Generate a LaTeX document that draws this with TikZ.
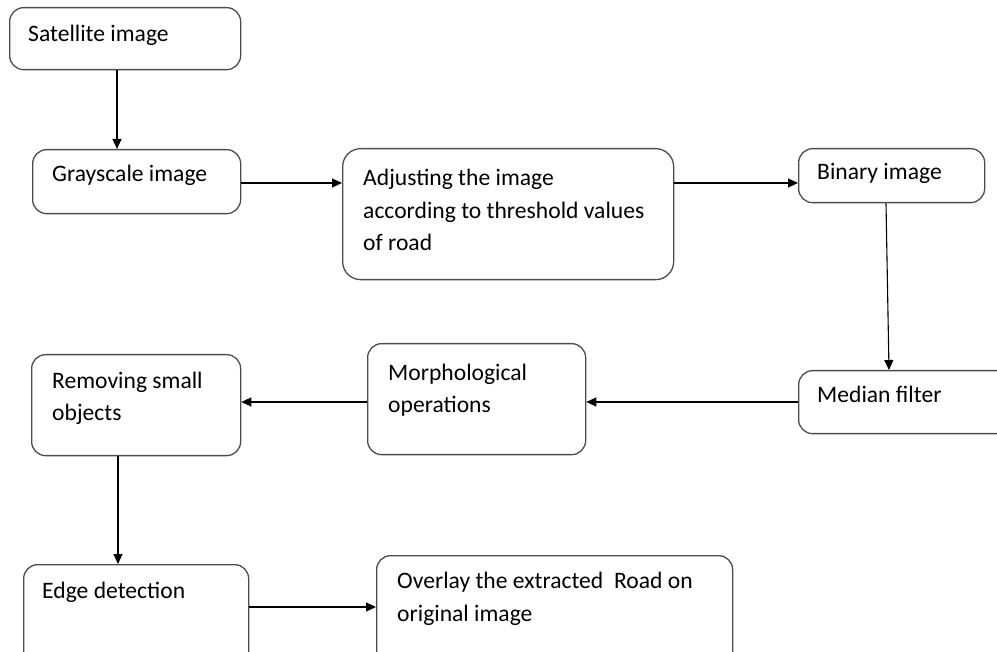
\documentclass[tikz,border=0pt]{standalone}
\usepackage{fontspec}
\setmainfont{Carlito}
\usetikzlibrary{arrows.meta}
\begin{document}
\begin{tikzpicture}[x=1pt,y=-1pt,
  box/.style={draw=black!70,line width=1.3pt,rounded corners=14pt,anchor=north west,inner sep=0pt,fill=white},
  txt/.style={anchor=base west,inner sep=0pt,align=left,font=\fontsize{23.6}{32.5}\selectfont},
  arr/.style={line width=1.1pt,-{Triangle[length=10pt,width=9pt]}}]
\useasboundingbox (0,0) rectangle (997,652);
\clip (0,0) rectangle (997,652);
\fill[white] (0,0) rectangle (997,652);
% boxes
\node[box,minimum width=231pt,minimum height=62pt] (sat) at (9,7) {};
\node[box,minimum width=208pt,minimum height=64pt] (gray) at (32,149) {};
\node[box,minimum width=331pt,minimum height=131pt,rounded corners=18pt] (adj) at (342,148) {};
\node[box,minimum width=186pt,minimum height=54pt] (bin) at (798,148) {};
\node[box,minimum width=230pt,minimum height=63pt] (med) at (798,370) {};
\node[box,minimum width=218pt,minimum height=111pt] (morph) at (367,343) {};
\node[box,minimum width=209pt,minimum height=101pt] (rem) at (31,354) {};
\node[box,minimum width=225pt,minimum height=110pt] (edge) at (23,564) {};
\node[box,minimum width=356pt,minimum height=120pt] (over) at (376,555) {};
% texts (base = last line)
\node[txt] (tsat) at (28,42) {Satellite image};
\node[txt] (tgray) at (52,182) {Grayscale image};
\node[txt] (tadj) at (363,251) {Adjusting the image\\according to threshold values\\of road};
\node[txt] (tbin) at (817,180) {Binary image};
\node[txt] (tmed) at (817,403) {Median filter};
\node[txt] (tmorph) at (388,413) {Morphological\\operations};
\node[txt] (trem) at (52,421) {Removing small\\objects};
\node[txt] (tedge) at (42,598) {Edge detection};
\node[txt] (tover) at (397,621) {Overlay the extracted\ \ Road on\\original image};
% connector guides
\coordinate (c1) at (117,0);
\coordinate (c2) at (0,183);
\coordinate (c3) at (0,402);
\coordinate (c4) at (118,0);
\coordinate (c5) at (0,607);
\coordinate (b1) at (886,202);
\coordinate (b2) at (889,370);
% connectors
\draw[arr] (sat.south -| c1) -- (gray.north -| c1);
\draw[arr] (gray.east |- c2) -- (adj.west |- c2);
\draw[arr] (adj.east |- c2) -- (bin.west |- c2);
\draw[arr] (bin.south -| b1) -- (med.north -| b2);
\draw[arr] (med.west |- c3) -- (morph.east |- c3);
\draw[arr] (morph.west |- c3) -- (rem.east |- c3);
\draw[arr] (rem.south -| c4) -- (edge.north -| c4);
\draw[arr] (edge.east |- c5) -- (over.west |- c5);
\end{tikzpicture}
\end{document}
